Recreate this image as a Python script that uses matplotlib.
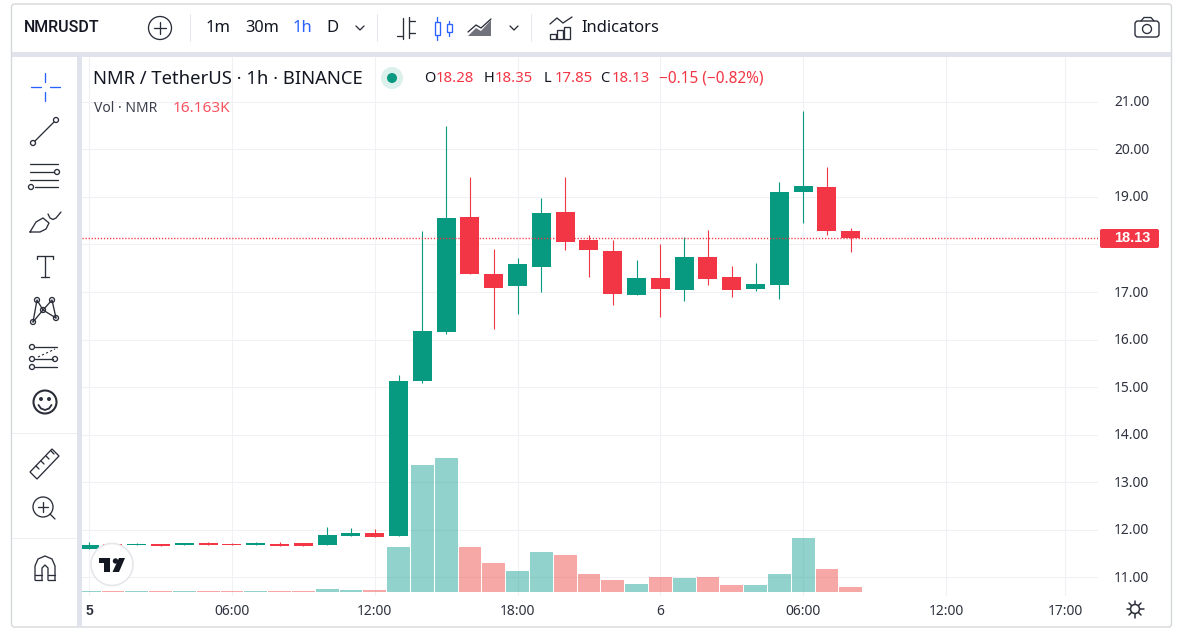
"""NMRUSDT 1h candles with volume, in a TradingView style widget."""
import numpy as np

import matplotlib
matplotlib.use("Agg")
import matplotlib.pyplot as plt
from matplotlib.patches import Circle, FancyBboxPatch, Polygon, Rectangle
from matplotlib.transforms import ScaledTranslation

plt.rcParams["font.family"] = ["Noto Sans", "DejaVu Sans"]

# hours since 00:00 on day 5
hours = list(range(33))
opens = [11.60, 11.70, 11.68, 11.70, 11.68, 11.72, 11.70, 11.68, 11.70, 11.72, 11.68,
         11.87, 11.93, 11.87, 15.13, 16.16, 18.58, 17.38, 17.13, 17.53, 18.68, 18.09,
         17.86, 16.94, 17.29, 17.04, 17.74, 17.32, 17.06, 17.15, 19.10, 19.21, 18.28]
highs = [11.74, 11.72, 11.72, 11.70, 11.72, 11.74, 11.72, 11.74, 11.74, 11.72, 12.06,
         12.04, 12.02, 15.25, 18.28, 20.49, 19.42, 17.90, 17.71, 18.98, 19.42, 18.20,
         18.09, 17.67, 18.01, 18.16, 18.30, 17.55, 17.61, 19.31, 20.81, 19.63, 18.35]
lows = [11.60, 11.66, 11.68, 11.66, 11.68, 11.68, 11.68, 11.68, 11.66, 11.66, 11.68,
        11.87, 11.85, 11.87, 15.09, 16.12, 17.38, 16.22, 16.54, 17.00, 17.88, 17.32,
        16.73, 16.94, 16.47, 16.81, 17.15, 16.89, 17.02, 16.85, 18.45, 18.20, 17.85]
closes = [11.68, 11.66, 11.70, 11.66, 11.72, 11.68, 11.68, 11.72, 11.66, 11.66, 11.89,
          11.93, 11.85, 15.13, 16.18, 18.56, 17.38, 17.08, 17.59, 18.66, 18.05, 17.88,
          16.96, 17.29, 17.06, 17.74, 17.27, 17.04, 17.17, 19.10, 19.23, 18.28, 18.13]
volumes = [3, 3, 3, 3, 3, 3, 3, 3, 3, 3, 10, 7, 7, 145, 410, 432, 145, 94, 68, 129, 119,
           58, 39, 26, 48, 45, 48, 23, 23, 58, 174, 74, 16.163]

price_ticks = [11, 12, 13, 14, 15, 16, 17, 18, 19, 20, 21]
time_ticks = [0, 6, 12, 18, 24, 30, 36, 41]
time_labels = ["5", "06:00", "12:00", "18:00", "6", "06:00", "12:00", "17:00"]
last_price = 18.13

GREEN = "#089981"
RED = "#f23645"
INK = "#131722"
ICON = "#2a2e39"
BLUE = "#2962ff"
BAND = "#e0e3eb"
GRID = "#f0f1f4"

W, H = 1179, 635
XLIM = (-0.30, 42.39)
fig = plt.figure(figsize=(W / 100, H / 100), dpi=100, facecolor="white")


def pane(x0, y0, x1, y1):
    return fig.add_axes([x0 / W, 1 - y1 / H, (x1 - x0) / W, (y1 - y0) / H])


# three panes on one pixel box: grid and ticks, then volume, then candles
ax_grid = pane(82, 57, 1098, 596)
ax_grid.set_xlim(*XLIM)
ax_grid.set_ylim(10.61, 21.94)
for s in ax_grid.spines.values():
    s.set_visible(False)
ax_grid.grid(color=GRID, lw=0.8)
ax_grid.yaxis.tick_right()
# the 18.00 label sits behind the last price tag in the widget
ax_grid.set_yticks(price_ticks, ["" if p == 18 else f"{p:.2f}" for p in price_ticks])
ax_grid.set_xticks(time_ticks, time_labels)
ax_grid.tick_params(length=0, labelsize=10, labelcolor="#2f3340")
ax_grid.tick_params(axis="y", pad=11.5)
ax_grid.tick_params(axis="x", pad=5.5)
ax_grid.get_xticklabels()[0].set_fontfamily("Liberation Sans")
ax_grid.get_xticklabels()[0].set_fontweight("bold")
up = ScaledTranslation(0, 1 / 100, fig.dpi_scale_trans)
for t in ax_grid.get_yticklabels():
    t.set_transform(t.get_transform() + up)

ax_vol = pane(82, 57, 1098, 596)
ax_vol.set_xlim(*XLIM)
ax_vol.set_ylim(-12.9, 1726)
ax_vol.axis("off")
vol_colors = ["#26a69a" if c >= o else "#ef5350" for o, c in zip(opens, closes)]
ax_vol.bar(hours, volumes, width=0.96, color=vol_colors, alpha=0.5, linewidth=0)

ax = pane(82, 57, 1098, 596)
ax.set_xlim(*XLIM)
ax.set_ylim(10.61, 21.94)
ax.axis("off")
for h, o, hi, lo, c in zip(hours, opens, highs, lows, closes):
    col = GREEN if c >= o else RED
    ax.vlines(h, lo, hi, color=col, lw=0.8, zorder=3)
    ax.bar(h, abs(c - o), bottom=min(o, c), width=0.8, color=col, linewidth=0, zorder=3)
ax.axhline(last_price, color=RED, lw=1.0, ls=(0, (0.9, 1.3)), zorder=4)

# pixel overlay for the widget chrome
ov = fig.add_axes([0, 0, 1, 1], zorder=10)
ov.set_xlim(0, W)
ov.set_ylim(H, 0)
ov.axis("off")
ov.patch.set_alpha(0)


def line(xs, ys, color=ICON, lw=0.95):
    ov.plot(xs, ys, color=color, lw=lw, solid_capstyle="round", clip_on=False)


def ring(x, y, r, color=ICON, lw=0.95, fill="none"):
    ov.add_patch(Circle((x, y), r, fc=fill, ec=color, lw=lw))


def rect(x0, y0, x1, y1, fc, ec="none", lw=0):
    ov.add_patch(Rectangle((x0, y0), x1 - x0, y1 - y0, fc=fc, ec=ec, lw=lw))


def label(x, y, s, size=10, color=INK, ha="left", **kw):
    ov.text(x, y, s, fontsize=size, color=color, ha=ha, va="center", **kw)


# frame and bands
ov.add_patch(FancyBboxPatch((11.5, 4), 1160, 623, boxstyle="round,pad=0,rounding_size=3",
                            fc="none", ec="#d6d7da", lw=1))
rect(12, 52, 1171, 57, BAND)
rect(77, 57, 82, 626, BAND)
rect(12, 432.5, 77, 433.5, "#eceef2")
rect(12, 537.5, 77, 538.5, "#eceef2")
for sx in (190, 377, 531):
    rect(sx, 14, sx + 1, 42, "#e6e8ee")

# top toolbar
label(24, 28, "NMRUSDT", size=11.5, family="Roboto", fontweight="medium")
ring(160, 28, 11.5)
line([154, 166], [28, 28])
line([160, 160], [22, 34])
label(206, 28.5, "1m", size=12)
label(245, 28.5, "30m", size=11.8)
label(293, 28.5, "1h", size=12, color=BLUE)
label(326, 28.5, "D", size=12)
line([356, 360, 364], [26, 30, 26])
line([510, 514, 518], [26, 30, 26])
# bar-style icon
line([403, 403], [18, 39])
line([397, 403], [36, 36])
line([409, 409], [17, 38])
line([409, 415], [21, 21])
line([409, 415], [33, 33])
# candle icon
line([437, 437], [17, 40], color=BLUE)
ov.add_patch(Rectangle((434.5, 22), 5, 13, fc="white", ec=BLUE, lw=0.95, zorder=3))
line([449, 449], [21, 36], color=BLUE)
ov.add_patch(Rectangle((446.5, 24), 5, 8, fc="white", ec=BLUE, lw=0.95, zorder=3))
# area icon
ov.add_patch(Polygon([(468, 36), (476, 28), (481, 31), (491, 20), (491, 36)],
                     fc="#70737c", ec="none", hatch="////"))
line([468, 476, 481, 491], [32, 25, 28, 19])
# indicators icon
line([550, 557, 563, 572], [24, 18, 23, 17])
for bx, bt in ((550, 34), (557, 30), (564, 27)):
    ov.add_patch(Rectangle((bx, bt), 6, 39 - bt, fc="none", ec=ICON, lw=0.95))
label(581, 28.5, "Indicators", size=11.9)
# camera
ov.add_patch(FancyBboxPatch((1135, 21), 24, 16, boxstyle="round,pad=0,rounding_size=3",
                            fc="none", ec=ICON, lw=1))
line([1141, 1144, 1151, 1154], [21, 17.5, 17.5, 21])
ring(1147, 29, 4.5)

# legend lines
label(93, 78.5, "NMR / TetherUS · 1h · BINANCE", size=13.3)
ring(392, 78, 11, color="none", fill="#dcf0ec")
ring(392, 78, 5, color="none", fill=GREEN)
for x, s in ((424, "O"), (484, "H"), (544, "L"), (600, "C")):
    label(x, 78.5, s, size=10.5)
for x, s in ((436, "18.28"), (495, "18.35"), (555, "17.85"), (612, "18.13")):
    label(x, 78.5, s, size=10.7, color=RED)
label(659, 78.5, "−0.15 (−0.82%)", size=11.1, color=RED)
label(94, 108.5, "Vol · NMR", size=10, color="#3b3f4c")
label(173, 108.5, "16.163K", size=11, color="#f7525f")

# last price tag
ov.add_patch(FancyBboxPatch((1100, 229), 59, 19, boxstyle="round,pad=0,rounding_size=2",
                            fc=RED, ec="none"))
label(1132, 238.5, "18.13", size=10.5, color="white", ha="center",
      family="Liberation Sans", fontweight="bold")

# left toolbar
line([31, 41], [87, 87], color=BLUE)
line([50, 60], [87, 87], color=BLUE)
line([45, 45], [73, 82], color=BLUE)
line([45, 45], [92, 101], color=BLUE)
# trend line
line([35, 54], [141, 122])
ring(33, 143, 2.5)
ring(56, 120, 2.5)
# fib lines
line([30, 58], [164, 164])
line([30, 54], [172, 172])
line([30, 58], [180, 180])
line([35, 58], [187, 187])
ring(57, 172, 2.5)
ring(31, 187, 2.5)
# brush
line([30, 36, 43, 49, 46, 40, 30], [232, 222, 218, 223, 229, 232, 232])
line([48, 50, 53, 56, 61], [214, 218, 219.5, 218, 212])
# text tool
line([37, 53], [256, 256])
line([37, 37], [256, 259])
line([53, 53], [256, 259])
line([45, 45], [256, 277])
line([41, 49], [277, 277])
# pattern tool
line([33, 37, 43, 52, 56], [322, 300, 310, 300, 318])
line([33, 43, 56], [322, 310, 318])
for px, py in ((33, 322), (37, 300), (43, 310), (52, 300), (56, 318)):
    ring(px, py, 2.5, fill="white")
# forecast tool
line([35, 57], [347, 347])
line([35, 53], [359, 359])
line([35, 57], [367, 367])
ov.plot([38, 55], [357, 349], color=ICON, lw=0.8, ls=(0, (2, 2)))
ring(32, 347, 2.5)
ring(32, 359, 2.5)
ring(32, 367, 2.5)
ring(55, 359, 2.5)
# smiley
ring(45, 402, 11.5, lw=1.5)
ring(41, 399, 1.3, color=ICON, fill=ICON)
ring(49, 399, 1.3, color=ICON, fill=ICON)
smile = [(38.5, 405), (41, 408.5), (45, 410), (49, 408.5), (51.5, 405)]
line([p[0] for p in smile], [p[1] for p in smile], lw=1.3)
# ruler
ov.add_patch(Polygon([(30, 472), (52, 449), (59, 456), (37, 479)], fc="none", ec=ICON, lw=0.95))
for tx, ty in ((36, 466), (41, 461), (46, 456), (51, 451)):
    line([tx, tx + 3], [ty, ty + 3])
# zoom tool
ring(43, 507, 10)
line([38, 48], [507, 507])
line([43, 43], [502, 512])
line([50, 55], [514, 519])
# magnet
line([35, 35, 38, 45, 52, 55, 55], [580, 566, 559, 556, 559, 566, 580])
line([42, 42, 45, 48, 48], [580, 568, 565, 568, 580])
line([35, 42], [580, 580])
line([48, 55], [580, 580])
line([35, 42], [575, 575])
line([48, 55], [575, 575])

# logo badge
ring(112, 564.5, 21, color="#e6e7ea", lw=1.2, fill="white")
ov.add_patch(Polygon([(98.5, 558), (110, 558), (110, 572), (104, 572), (104, 563), (98.5, 563)],
                     fc=INK, ec="none"))
ring(115.5, 561, 2.7, color="none", fill=INK)
ov.add_patch(Polygon([(119, 558), (125, 558), (119, 572), (112.5, 572)], fc=INK, ec="none"))

# settings gear
ring(1135, 609, 4.5, lw=1.1)
for a in np.arange(0, 360, 45):
    dx, dy = np.cos(np.radians(a)), np.sin(np.radians(a))
    line([1135 + 5 * dx, 1135 + 8.5 * dx], [609 + 5 * dy, 609 + 8.5 * dy], lw=1.1)

fig.savefig("out.png", dpi=100)
